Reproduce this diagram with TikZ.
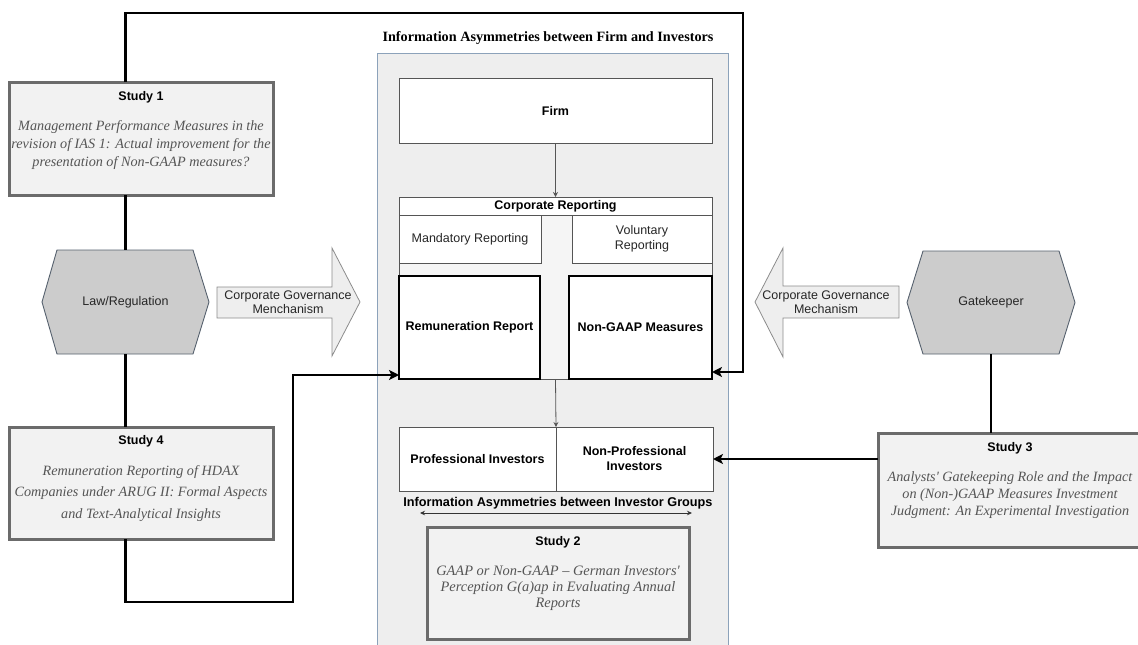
\documentclass[tikz,border=0pt]{standalone}
\usepackage{fontspec}
\setmainfont{Liberation Serif}
\setsansfont{Liberation Sans}
\usetikzlibrary{arrows.meta,calc}
\definecolor{studyfill}{HTML}{F2F2F2}
\definecolor{studyline}{HTML}{6B6B6B}
\definecolor{hexfill}{HTML}{CCCCCC}
\definecolor{hexline}{HTML}{56616E}
\definecolor{contfill}{HTML}{EEEEEE}
\definecolor{contline}{HTML}{8CA2BA}
\definecolor{itgray}{HTML}{555555}
\definecolor{cgfill}{HTML}{EEEEEE}
\definecolor{cgline}{HTML}{8C8C8C}
\definecolor{corpfill}{HTML}{F5F5F5}
\definecolor{thinline}{HTML}{555555}
\begin{document}
\begin{tikzpicture}[x=1pt,y=-1pt,
  box/.style={inner sep=0pt,outer sep=0pt},
  studybox/.style={box,draw=studyline,line width=3pt,fill=studyfill,minimum width=264pt},
  shead/.style={font=\sffamily\bfseries\fontsize{12.5}{15}\selectfont},
  itext/.style={text=itgray,align=center},
  plainbox/.style={box,draw=thinline,line width=0.8pt,fill=white},
  strongbox/.style={box,draw=black,line width=1.8pt,fill=white},
  sreg/.style={font=\sffamily\fontsize{12.5}{15}\selectfont,align=center,text=black!85},
  sbold/.style={font=\sffamily\bfseries\fontsize{12.5}{15}\selectfont,align=center},
  hexshape/.style={draw=hexline,line width=0.9pt,fill=hexfill},
  cgarrow/.style={draw=cgline,line width=0.8pt,fill=cgfill},
  link/.style={line width=2.3pt,-{Stealth[length=10pt,width=10pt,inset=2.5pt]}},
  plainlink/.style={line width=2.3pt},
  thinlink/.style={line width=0.8pt,draw=thinline,-{Stealth[length=5pt,width=5pt]}},
]
\useasboundingbox (0,0) rectangle (1138,645);

% central container
\node[box,draw=contline,line width=0.8pt,fill=contfill,minimum width=351pt,minimum height=607pt] (cont) at (552.5,356.5) {};
\node[font=\rmfamily\bfseries\fontsize{14.2}{17}\selectfont] (title) at (548,38) {Information Asymmetries between Firm and Investors};

% firm
\node[plainbox,minimum width=313pt,minimum height=65pt] (firm) at (555.5,110.5) {};
\node[sbold] (firmt) at (firm.center) {Firm};

% corporate reporting
\node[box,draw=thinline,line width=0.8pt,fill=corpfill,minimum width=313pt,minimum height=182pt] (corp) at (555.5,288) {};
\node[plainbox,minimum width=313pt,minimum height=18pt,sbold] (corphead) at (555.5,206) {Corporate Reporting};
\node[plainbox,minimum width=142pt,minimum height=48pt,sreg] (mand) at (470,239) {Mandatory Reporting};
\node[plainbox,minimum width=140pt,minimum height=48pt,sreg] (vol) at (642,239) {Voluntary\\Reporting};
\node[strongbox,minimum width=141pt,minimum height=103pt,sbold] (rem) at (469.5,327.5) {Remuneration Report};
\node[strongbox,minimum width=143pt,minimum height=103pt,sbold] (ngaap) at (640.5,327.5) {Non-GAAP Measures};

% investors
\node[plainbox,minimum width=157pt,minimum height=64pt,sbold] (prof) at (477.5,459) {Professional Investors};
\node[plainbox,minimum width=157pt,minimum height=64pt,sbold] (nprof) at (634.5,459) {Non-Professional\\Investors};
\node[font=\sffamily\bfseries\fontsize{12.7}{15}\selectfont] (grp) at (558,503) {Information Asymmetries between Investor Groups};
\coordinate (da1) at (420,513);
\coordinate (da2) at (692,513);
\draw[line width=0.8pt,draw=black!80,{Stealth[length=5pt,width=4.5pt]}-{Stealth[length=5pt,width=4.5pt]}] (da1) -- (da2);

% study 2
\node[studybox,minimum width=262pt,minimum height=112pt] (s2) at (558,583) {};
\node[shead] (s2h) at (558,542) {Study 2};
\node[itext,font=\rmfamily\itshape\fontsize{14.4}{16}\selectfont] (s2b) at (558,588) {GAAP or Non-GAAP – German Investors\textquotesingle\\Perception G(a)ap in Evaluating Annual\\Reports};

% study 1
\node[studybox,minimum height=113pt] (s1) at (141,138.5) {};
\node[shead] (s1h) at (141,97) {Study 1};
\node[itext,font=\rmfamily\itshape\fontsize{14.2}{18}\selectfont] (s1b) at (141,145) {Management Performance Measures in the\\revision of IAS 1: Actual improvement for the\\presentation of Non-GAAP measures?};

% study 4
\node[studybox,minimum height=112pt] (s4) at (141,483) {};
\node[shead] (s4h) at (141,441) {Study 4};
\node[itext,font=\rmfamily\itshape\fontsize{14.2}{21.7}\selectfont] (s4b) at (141,493.5) {Remuneration Reporting of HDAX\\Companies under ARUG II: Formal Aspects\\and Text-Analytical Insights};

% study 3
\node[studybox,minimum height=114pt] (s3) at (1010,490) {};
\node[shead] (s3h) at (1010,448) {Study 3};
\node[itext,font=\rmfamily\itshape\fontsize{14.2}{17}\selectfont] (s3b) at (1010,495) {Analysts\textquotesingle\ Gatekeeping Role and the Impact\\on (Non-)GAAP Measures Investment\\Judgment: An Experimental Investigation};

% hexagons
\node[box,minimum width=167pt,minimum height=104pt] (law) at (125.5,302) {};
\draw[hexshape] (law.west) -- ([xshift=15pt]law.north west) -- ([xshift=-16pt]law.north east) -- (law.east) -- ([xshift=-16pt]law.south east) -- ([xshift=15pt]law.south west) -- cycle;
\node[sreg] (lawt) at (law.center) {Law/Regulation};

\node[box,minimum width=168pt,minimum height=103pt] (gate) at (991,302.5) {};
\draw[hexshape] (gate.west) -- ([xshift=16pt]gate.north west) -- ([xshift=-16pt]gate.north east) -- (gate.east) -- ([xshift=-16pt]gate.south east) -- ([xshift=16pt]gate.south west) -- cycle;
\node[sreg] (gatet) at (gate.center) {Gatekeeper};

% corporate governance block arrows
\draw[cgarrow] (217,287) -- (332,287) -- (332,248) -- (360,302) -- (332,356) -- (332,318) -- (217,318) -- cycle;
\node[sreg,font=\sffamily\fontsize{12.5}{14.5}\selectfont] (cgl) at (288,302) {Corporate Governance\\Menchanism};
\draw[cgarrow] (899,286) -- (783,286) -- (783,248) -- (755,302) -- (783,357) -- (783,318) -- (899,318) -- cycle;
\node[sreg,font=\sffamily\fontsize{12.5}{14.5}\selectfont] (cgr) at (826,302) {Corporate Governance\\Mechanism};

% connectors
\draw[thinlink] (firm.south) -- (corp.north);
\draw[thinlink] (corp.south) -- (prof.north east);
\draw[plainlink] (law.north |- s1.south) -- (law.north);
\draw[plainlink] (law.south) -- (law.south |- s4.north);
\draw[plainlink] (gate.south) -- (gate.south |- s3.north);
\draw[link] (law.north |- s1.north) |- (743,13) |- ([yshift=7pt]ngaap.south east);
\draw[link] (law.south |- s4.south) |- (293,602) |- ([yshift=4pt]rem.south west);
\draw[link] (s3.west |- nprof.east) -- (nprof.east);
\end{tikzpicture}
\end{document}
